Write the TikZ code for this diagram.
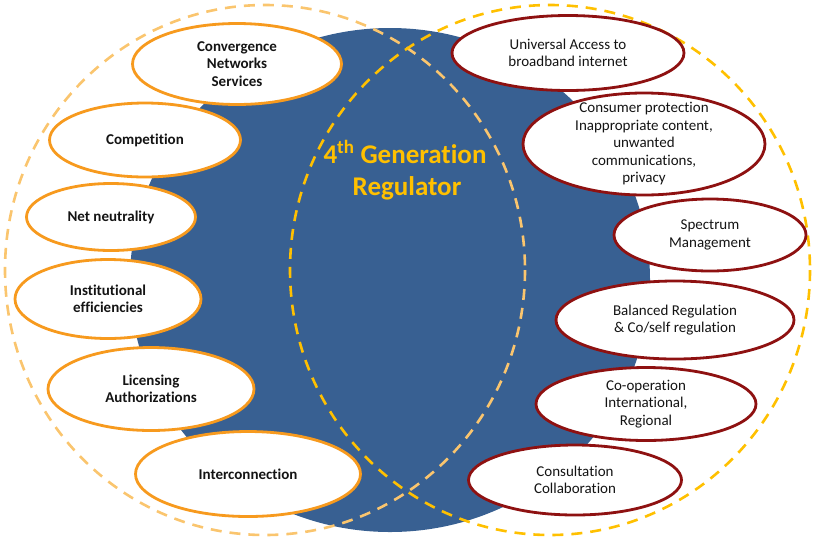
\documentclass[tikz,border=0pt]{standalone}
\usepackage{fontspec}
\setmainfont[Ligatures={NoCommon}]{Carlito}
\usetikzlibrary{shapes.geometric}
\definecolor{blueC}{HTML}{386092}
\definecolor{orangeC}{HTML}{F79A1E}
\definecolor{redC}{HTML}{8E1111}
\definecolor{dashL}{HTML}{FAC56E}
\definecolor{dashR}{HTML}{FFC000}
\definecolor{titleC}{HTML}{FFC000}
\definecolor{txt}{HTML}{141414}
\begin{document}
\begin{tikzpicture}[x=1pt,y=-1pt,
  lbox/.style={ellipse, draw=orangeC, line width=2.8pt, fill=white, inner sep=0pt},
  rbox/.style={ellipse, draw=redC, line width=2.8pt, fill=white, inner sep=0pt},
  ltext/.style={align=center, font=\fontsize{15}{17.5}\selectfont\bfseries, text=txt, inner sep=0pt},
  rtext/.style={align=center, font=\fontsize{15}{17.5}\selectfont, text=txt, inner sep=0pt},
  titletext/.style={font=\fontsize{27}{32}\selectfont\bfseries, text=titleC, inner sep=0pt, anchor=base},
  zone/.style={line width=2.6pt, dash pattern=on 11pt off 8pt}]
\useasboundingbox (0,0) rectangle (813,539);
\fill[blueC] (390,280) ellipse [x radius=260, y radius=252];
\node[titletext] (t1) at (405,163) {4\textsuperscript{th} Generation};
\node[titletext] (t2) at (407,195) {Regulator};
\draw[zone, draw=dashL] (265,270) ellipse [x radius=260, y radius=265];
\draw[zone, draw=dashR] (550,270) ellipse [x radius=260, y radius=265];
% left group
\node[lbox, minimum width=209pt, minimum height=81pt] (conv) at (237,64) {};
\node[ltext] (convt) at (conv.center) {Convergence\\Networks\\Services};
\node[lbox, minimum width=191pt, minimum height=74pt] (comp) at (145,140) {};
\node[ltext] (compt) at (comp.center) {Competition};
\node[lbox, minimum width=169pt, minimum height=67pt] (net) at (111,217) {};
\node[ltext] (nett) at (net.center) {Net neutrality};
\node[lbox, minimum width=186pt, minimum height=79pt] (inst) at (108,299) {};
\node[ltext] (instt) at (inst.center) {Institutional\\efficiencies};
\node[lbox, minimum width=206pt, minimum height=83pt] (lic) at (151,389) {};
\node[ltext] (lict) at (lic.center) {Licensing\\Authorizations};
\node[lbox, minimum width=225pt, minimum height=85pt] (inter) at (248,474) {};
\node[ltext] (intert) at (inter.center) {Interconnection};
% right group
\node[rbox, minimum width=232pt, minimum height=75pt] (ua) at (568,53) {};
\node[rtext] (uat) at (ua.center) {Universal Access to\\broadband internet};
\node[rbox, minimum width=242pt, minimum height=102pt] (cp) at (644,144) {};
\node[rtext] (cpt) at (cp.center) {Consumer protection\\Inappropriate content,\\unwanted\\communications,\\privacy};
\node[rbox, minimum width=192pt, minimum height=72pt] (sm) at (710,235) {};
\node[rtext] (smt) at (sm.center) {Spectrum\\Management};
\node[rbox, minimum width=238pt, minimum height=78pt] (br) at (675,320) {};
\node[rtext] (brt) at (br.center) {Balanced Regulation\\\& Co/self regulation};
\node[rbox, minimum width=220pt, minimum height=73pt] (co) at (646,404) {};
\node[rtext] (cot) at (co.center) {Co-operation\\International,\\Regional};
\node[rbox, minimum width=213pt, minimum height=70pt] (cc) at (575,480) {};
\node[rtext] (cct) at (cc.center) {Consultation\\Collaboration};
\end{tikzpicture}
\end{document}
